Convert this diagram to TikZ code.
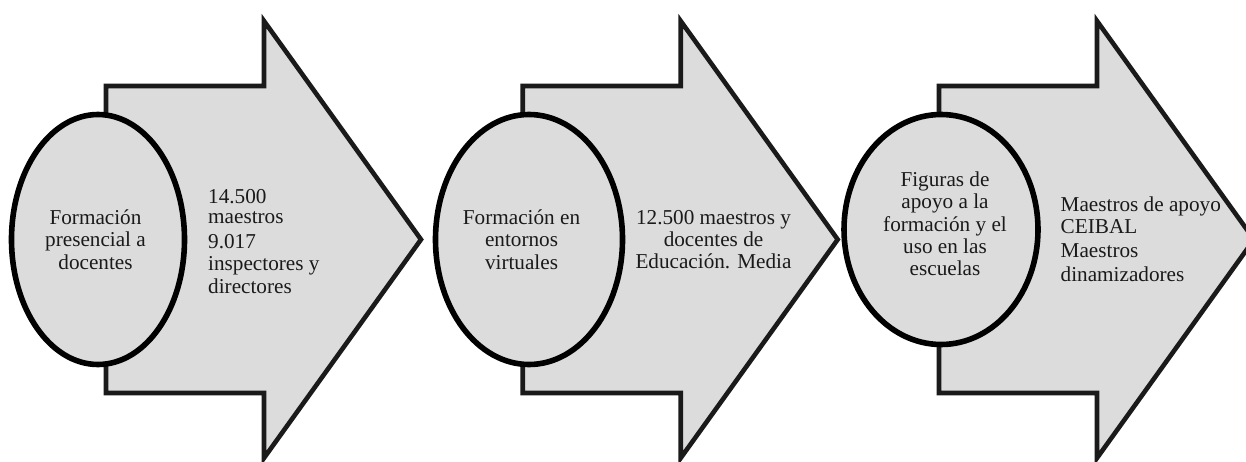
\documentclass[tikz,border=0pt]{standalone}
\usepackage{fontspec}
\setmainfont{Liberation Serif}
\usetikzlibrary{shapes.geometric}
\definecolor{shade}{HTML}{DCDCDC}
\definecolor{ink}{HTML}{1A1A1A}
\tikzset{
  x=1pt,y=-1pt,
  bigarrow/.style={draw=ink,fill=shade,line width=4.6pt,miter limit=10},
  oval/.style={ellipse,draw=black,fill=shade,line width=5.6pt,inner sep=0pt},
  lab/.style={inner sep=0pt,text=ink,font=\fontsize{21.2}{22.3}\selectfont},
}
\newcommand{\bigarr}[1]{%
  \draw[bigarrow] (#1,86) -- (#1+158,86) -- (#1+158,21) -- (#1+315,239.5) -- (#1+158,458) -- (#1+158,393) -- (#1,393) -- cycle;}
\begin{document}
\begin{tikzpicture}
\useasboundingbox (0,0) rectangle (1246,462);
\clip (0,0) rectangle (1246,462);
\bigarr{106}
\bigarr{522.7}
\bigarr{939}
\node[oval,minimum width=173pt,minimum height=250pt] (e1) at (98,239.5) {};
\node[oval,minimum width=187pt,minimum height=250pt] (e2) at (529,239.5) {};
\node[oval,minimum width=194pt,minimum height=230pt] (e3) at (941,229.5) {};
\node[lab,align=center] (t1) at (95.5,239.5) {Formación\\presencial a\\docentes};
\node[lab,align=center] (t2) at (521.5,239.5) {Formación en\\entornos\\virtuales};
\node[lab,align=center] (t3) at (945,224) {Figuras de\\apoyo a la\\formación y el\\uso en las\\escuelas};
\node[lab,align=left,anchor=west] (d1) at (208,241.5) {14.500\\[-1.6pt]maestros\\[2.7pt]9.017\\[-0.7pt]inspectores y\\[1.1pt]directores};
\node[lab,align=center] (d2) at (713.5,239.5) {12.500 maestros y\\docentes de\\Educación. Media};
\node[lab,align=left,anchor=west] (d3) at (1060.5,239) {Maestros de apoyo\\CEIBAL\\[1.4pt]Maestros\\[1.5pt]dinamizadores};
\end{tikzpicture}
\end{document}
